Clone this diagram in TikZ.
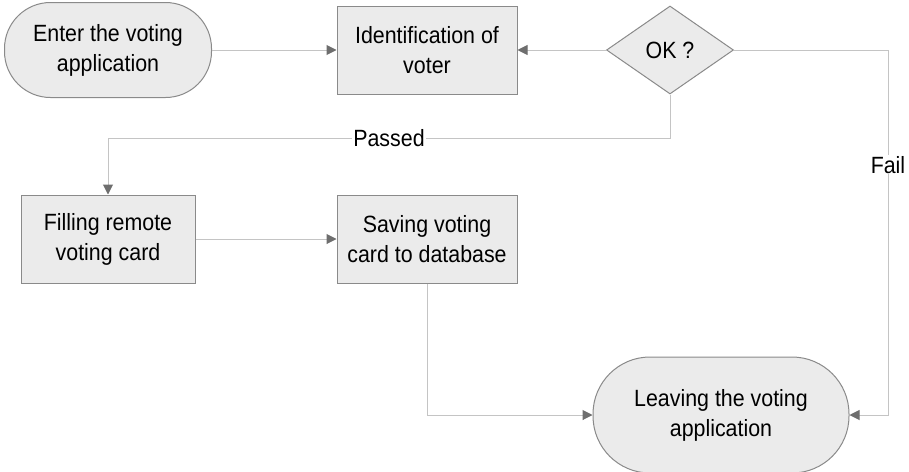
\documentclass[tikz,border=0pt]{standalone}
\usepackage{fontspec}
\setmainfont[FakeStretch=0.91]{Liberation Sans}
\usetikzlibrary{arrows.meta,positioning,shapes.geometric}

\definecolor{boxfill}{HTML}{EBEBEB}
\definecolor{boxline}{HTML}{8A8A8A}
\definecolor{wiregray}{HTML}{C4C4C4}
\definecolor{tipgray}{HTML}{6E6E6E}

\begin{document}
\begin{tikzpicture}[x=1pt,y=1pt,->,>={Triangle[length=10pt,width=10pt,color=tipgray]},
node distance=319pt,line width=1pt,
font=\fontsize{23.5}{30}\selectfont]
\tikzstyle{term}=[draw=boxline,fill=boxfill,rounded corners=46pt,align=center,inner sep=0pt]
\tikzstyle{task}=[draw=boxline,fill=boxfill,align=center,minimum height=88pt,inner sep=0pt]
\tikzstyle{test}=[diamond,draw=boxline,fill=boxfill,minimum width=127pt,minimum height=88pt,aspect=1.44,inner sep=0pt]
\tikzstyle{wire}=[draw=wiregray]
\tikzstyle{tag}=[fill=white,inner sep=1pt,text=black]

\useasboundingbox (0,0) rectangle (909,-471);

\node[term,minimum width=207pt,minimum height=95pt] (enter) at (108,-50) {Enter the voting\\application};
\node[task,minimum width=180pt] (ident) [right of=enter] {Identification of\\voter};
\node[test] (ok) [right of=ident,node distance=243pt] {OK ?};
\node[task,minimum width=174pt] (fill) [below of=enter,node distance=189pt] {Filling remote\\voting card};
\node[task,minimum width=180pt] (save) [right of=fill] {Saving voting\\card to database};
\node[term,rounded corners=57pt,minimum width=256pt,minimum height=116pt] (leave) at (721,-415) {Leaving the voting\\application};

\path[wire]
(enter) edge (ident)
(ok) edge (ident)
(fill) edge (save);
\draw[wire] (ok.south) -- ++(0,-44) -| node[tag,pos=0.25] {Passed} (fill.north);
\draw[wire] (ok.east) -- ++(154,0) |- node[tag,pos=0.157] {Fail} (leave.east);
\draw[wire] (save.south) |- (leave.west);
\end{tikzpicture}
\end{document}
